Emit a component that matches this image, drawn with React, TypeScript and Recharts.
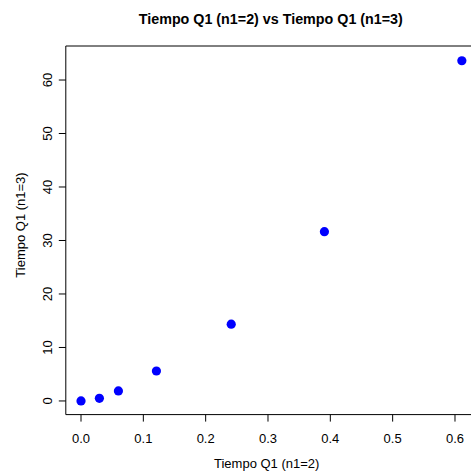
import { ScatterChart, Scatter, XAxis, YAxis, ReferenceArea } from 'recharts';

const xValues = [0.0, 0.0295, 0.06, 0.121, 0.241, 0.3905, 0.611];
const yValues = [0.0, 0.5, 1.87, 5.6, 14.35, 31.65, 63.6];
const xTicks = [0, 0.1, 0.2, 0.3, 0.4, 0.5, 0.6];
const yTicks = [0, 10, 20, 30, 40, 50, 60];

const X_DOMAIN: [number, number] = [-0.0244, 0.635];
const Y_DOMAIN: [number, number] = [-2.55, 66.36];

const data = xValues.map((x, i) => ({ x, y: yValues[i] }));

const FONT = '"Liberation Sans", Arial, Helvetica, sans-serif';

const XTick = (props: any) => (
  <text x={props.x} y={443.3} textAnchor="middle" fontSize={13} fontFamily={FONT} fill="#000">
    {Number(props.payload.value).toFixed(1)}
  </text>
);

const YTick = (props: any) => (
  <text
    x={51.6}
    y={props.y}
    transform={`rotate(-90, 51.6, ${props.y})`}
    textAnchor="middle"
    fontSize={13}
    fontFamily={FONT}
    fill="#000"
  >
    {props.payload.value}
  </text>
);

const Dot = (props: any) => <circle cx={props.cx} cy={props.cy} r={4.6} fill="#0000ff" />;

export default function App() {
  return (
    <div
      style={{
        position: 'absolute',
        left: 0,
        top: 0,
        width: 471,
        height: 473,
        overflow: 'hidden',
        background: '#fff',
      }}
    >
      <div
        style={{
          position: 'absolute',
          left: 0,
          top: 11,
          width: 541.6,
          textAlign: 'center',
          fontFamily: FONT,
          fontWeight: 'bold',
          fontSize: 14.3,
          lineHeight: '16px',
          color: '#000',
        }}
      >
        Tiempo Q1 (n1=2) vs Tiempo Q1 (n1=3)
      </div>
      <ScatterChart width={480} height={473} margin={{ top: 46, right: 3.2, bottom: 0, left: 0 }}>
        <XAxis
          type="number"
          dataKey="x"
          domain={X_DOMAIN}
          ticks={xTicks}
          allowDataOverflow
          axisLine={false}
          tickSize={7}
          tickLine={{ stroke: '#000' }}
          height={58.4}
          tick={XTick}
          label={{
            content: () => (
              <text x={266.7} y={468} textAnchor="middle" fontSize={13} fontFamily={FONT} fill="#000">
                Tiempo Q1 (n1=2)
              </text>
            ),
          }}
        />
        <YAxis
          type="number"
          dataKey="y"
          domain={Y_DOMAIN}
          ticks={yTicks}
          allowDataOverflow
          axisLine={false}
          tickSize={7}
          tickLine={{ stroke: '#000' }}
          width={65.8}
          tick={YTick}
          label={{
            content: () => (
              <text
                x={24.5}
                y={225}
                transform="rotate(-90, 24.5, 225)"
                textAnchor="middle"
                fontSize={13}
                fontFamily={FONT}
                fill="#000"
              >
                Tiempo Q1 (n1=3)
              </text>
            ),
          }}
        />
        <ReferenceArea
          x1={X_DOMAIN[0]}
          x2={X_DOMAIN[1]}
          y1={Y_DOMAIN[0]}
          y2={Y_DOMAIN[1]}
          fill="none"
          stroke="#000"
          strokeWidth={1}
          ifOverflow="visible"
        />
        <Scatter data={data} shape={Dot} isAnimationActive={false} />
      </ScatterChart>
    </div>
  );
}
